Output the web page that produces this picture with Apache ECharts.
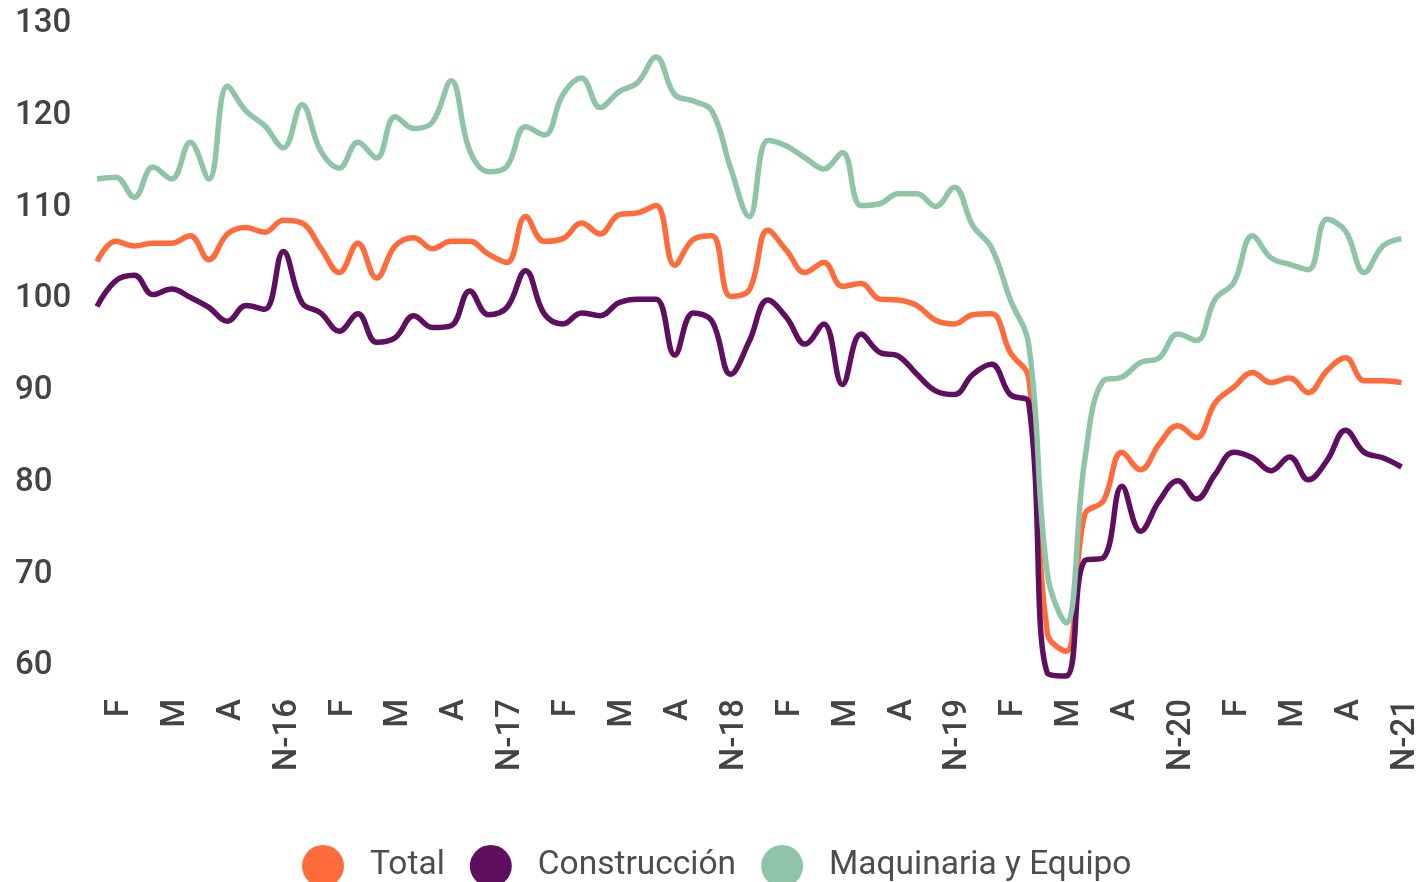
<!DOCTYPE html>
<html>
<head>
<meta charset="utf-8">
<title>Indices</title>
<script src="https://cdn.jsdelivr.net/npm/echarts@6/dist/echarts.min.js"></script>
<style>
  html, body { margin: 0; padding: 0; background: #ffffff; }
  #chart { width: 1422px; height: 882px; }
</style>
</head>
<body>
<div id="chart"></div>
<script>
// meses ene-2016 .. nov-2021
const meses = [
  "E", "F", "M", "A", "M", "J", "J", "A", "S", "O", "N-16", "D",
  "E", "F", "M", "A", "M", "J", "J", "A", "S", "O", "N-17", "D",
  "E", "F", "M", "A", "M", "J", "J", "A", "S", "O", "N-18", "D",
  "E", "F", "M", "A", "M", "J", "J", "A", "S", "O", "N-19", "D",
  "E", "F", "M", "A", "M", "J", "J", "A", "S", "O", "N-20", "D",
  "E", "F", "M", "A", "M", "J", "J", "A", "S", "O", "N-21"
];

const total = [
  104.1, 106.3, 105.8, 106.1, 106.1, 106.9, 104.3, 107.1, 107.8, 107.3, 108.6, 108.3,
  105.6, 102.9, 106.1, 102.3, 105.8, 106.7, 105.5, 106.3, 106.3, 104.9, 104.0, 109.0,
  106.3, 106.6, 108.3, 107.1, 109.2, 109.4, 110.2, 103.7, 106.5, 106.9, 100.3, 101.0,
  107.5, 105.3, 102.9, 104.0, 101.4, 101.7, 100.0, 99.9, 99.3, 97.7, 97.3, 98.3,
  98.4, 94.2, 91.4, 63.5, 61.6, 76.5, 78.0, 83.3, 81.4, 84.2, 86.2, 84.9,
  88.7, 90.4, 92.0, 90.9, 91.4, 89.8, 92.2, 93.6, 91.1, 91.1, 90.9
];

const construccion = [
  99.2, 102.0, 102.6, 100.5, 101.1, 100.2, 99.1, 97.6, 99.3, 98.9, 105.2, 99.6,
  98.5, 96.5, 98.4, 95.3, 95.8, 98.2, 96.9, 97.1, 100.9, 98.3, 99.1, 103.1,
  98.4, 97.3, 98.5, 98.2, 99.6, 100.0, 100.0, 93.9, 98.5, 97.6, 91.8, 95.4,
  99.9, 98.0, 95.1, 97.3, 90.7, 96.2, 94.2, 93.8, 91.8, 90.0, 89.6, 91.8,
  92.9, 89.6, 88.7, 59.2, 58.9, 71.5, 71.8, 79.6, 74.7, 78.0, 80.2, 78.2,
  80.9, 83.3, 82.7, 81.3, 82.8, 80.3, 82.4, 85.7, 83.3, 82.7, 81.7
];

const maquinaria = [
  113.1, 113.3, 111.1, 114.4, 113.1, 117.1, 113.1, 123.2, 120.5, 118.9, 116.5, 121.2,
  116.2, 114.3, 117.1, 115.4, 119.9, 118.6, 119.3, 123.8, 116.2, 113.9, 114.5, 118.8,
  117.9, 122.3, 124.1, 120.9, 122.6, 123.6, 126.4, 122.3, 121.6, 120.5, 114.3, 109.0,
  117.3, 116.7, 115.4, 114.2, 116.0, 110.2, 110.4, 111.5, 111.5, 110.1, 112.2, 108.0,
  105.6, 100.0, 95.0, 70.0, 64.7, 82.4, 91.1, 91.5, 93.1, 93.6, 96.2, 95.5,
  100.0, 101.8, 106.9, 104.5, 103.8, 103.2, 108.7, 107.4, 102.9, 105.8, 106.6
];

const colores = ["#ff6b3a", "#5e0f5f", "#8fc4a7"];
const nombres = ["Total", "Construcción", "Maquinaria y Equipo"];

const chart = echarts.init(document.getElementById("chart"));

const lineSeries = (name, data) => ({
  name: name,
  type: "line",
  data: data,
  smooth: 0.4,
  symbol: "none",
  clip: false,
  lineStyle: { width: 5.5 },
});

chart.setOption({
  animation: false,
  color: colores,
  grid: {
    left: 97,
    right: 12,
    top: 24,
    bottom: 216,
  },
  legend: {
    data: nombres,
    top: 840,
    left: 297,
    icon: "circle",
    itemWidth: 42,
    itemHeight: 42,
    itemGap: 25,
    textStyle: {
      fontFamily: "Roboto, sans-serif",
      fontSize: 33.5,
      color: "#4d4d4d",
      padding: [0, 0, 0, 21],
    },
  },
  xAxis: {
    type: "category",
    data: meses,
    boundaryGap: false,
    axisLine: { show: false },
    axisTick: { show: false },
    splitLine: { show: false },
    axisLabel: {
      rotate: 90,
      margin: 33,
      interval: (idx) => idx % 3 === 1,
      verticalAlign: "top",
      lineHeight: 8,
      fontFamily: "Roboto, sans-serif",
      fontWeight: 500,
      fontSize: 33,
      color: "#444444",
    },
  },
  yAxis: {
    type: "value",
    min: 60,
    max: 130,
    interval: 10,
    axisLine: { show: false },
    axisTick: { show: false },
    splitLine: { show: false },
    axisLabel: {
      align: "left",
      margin: 82,
      fontFamily: "Roboto, sans-serif",
      fontWeight: 500,
      fontSize: 33,
      color: "#444444",
    },
  },
  series: [
    lineSeries(nombres[0], total),
    lineSeries(nombres[1], construccion),
    lineSeries(nombres[2], maquinaria),
  ],
});
</script>
</body>
</html>
